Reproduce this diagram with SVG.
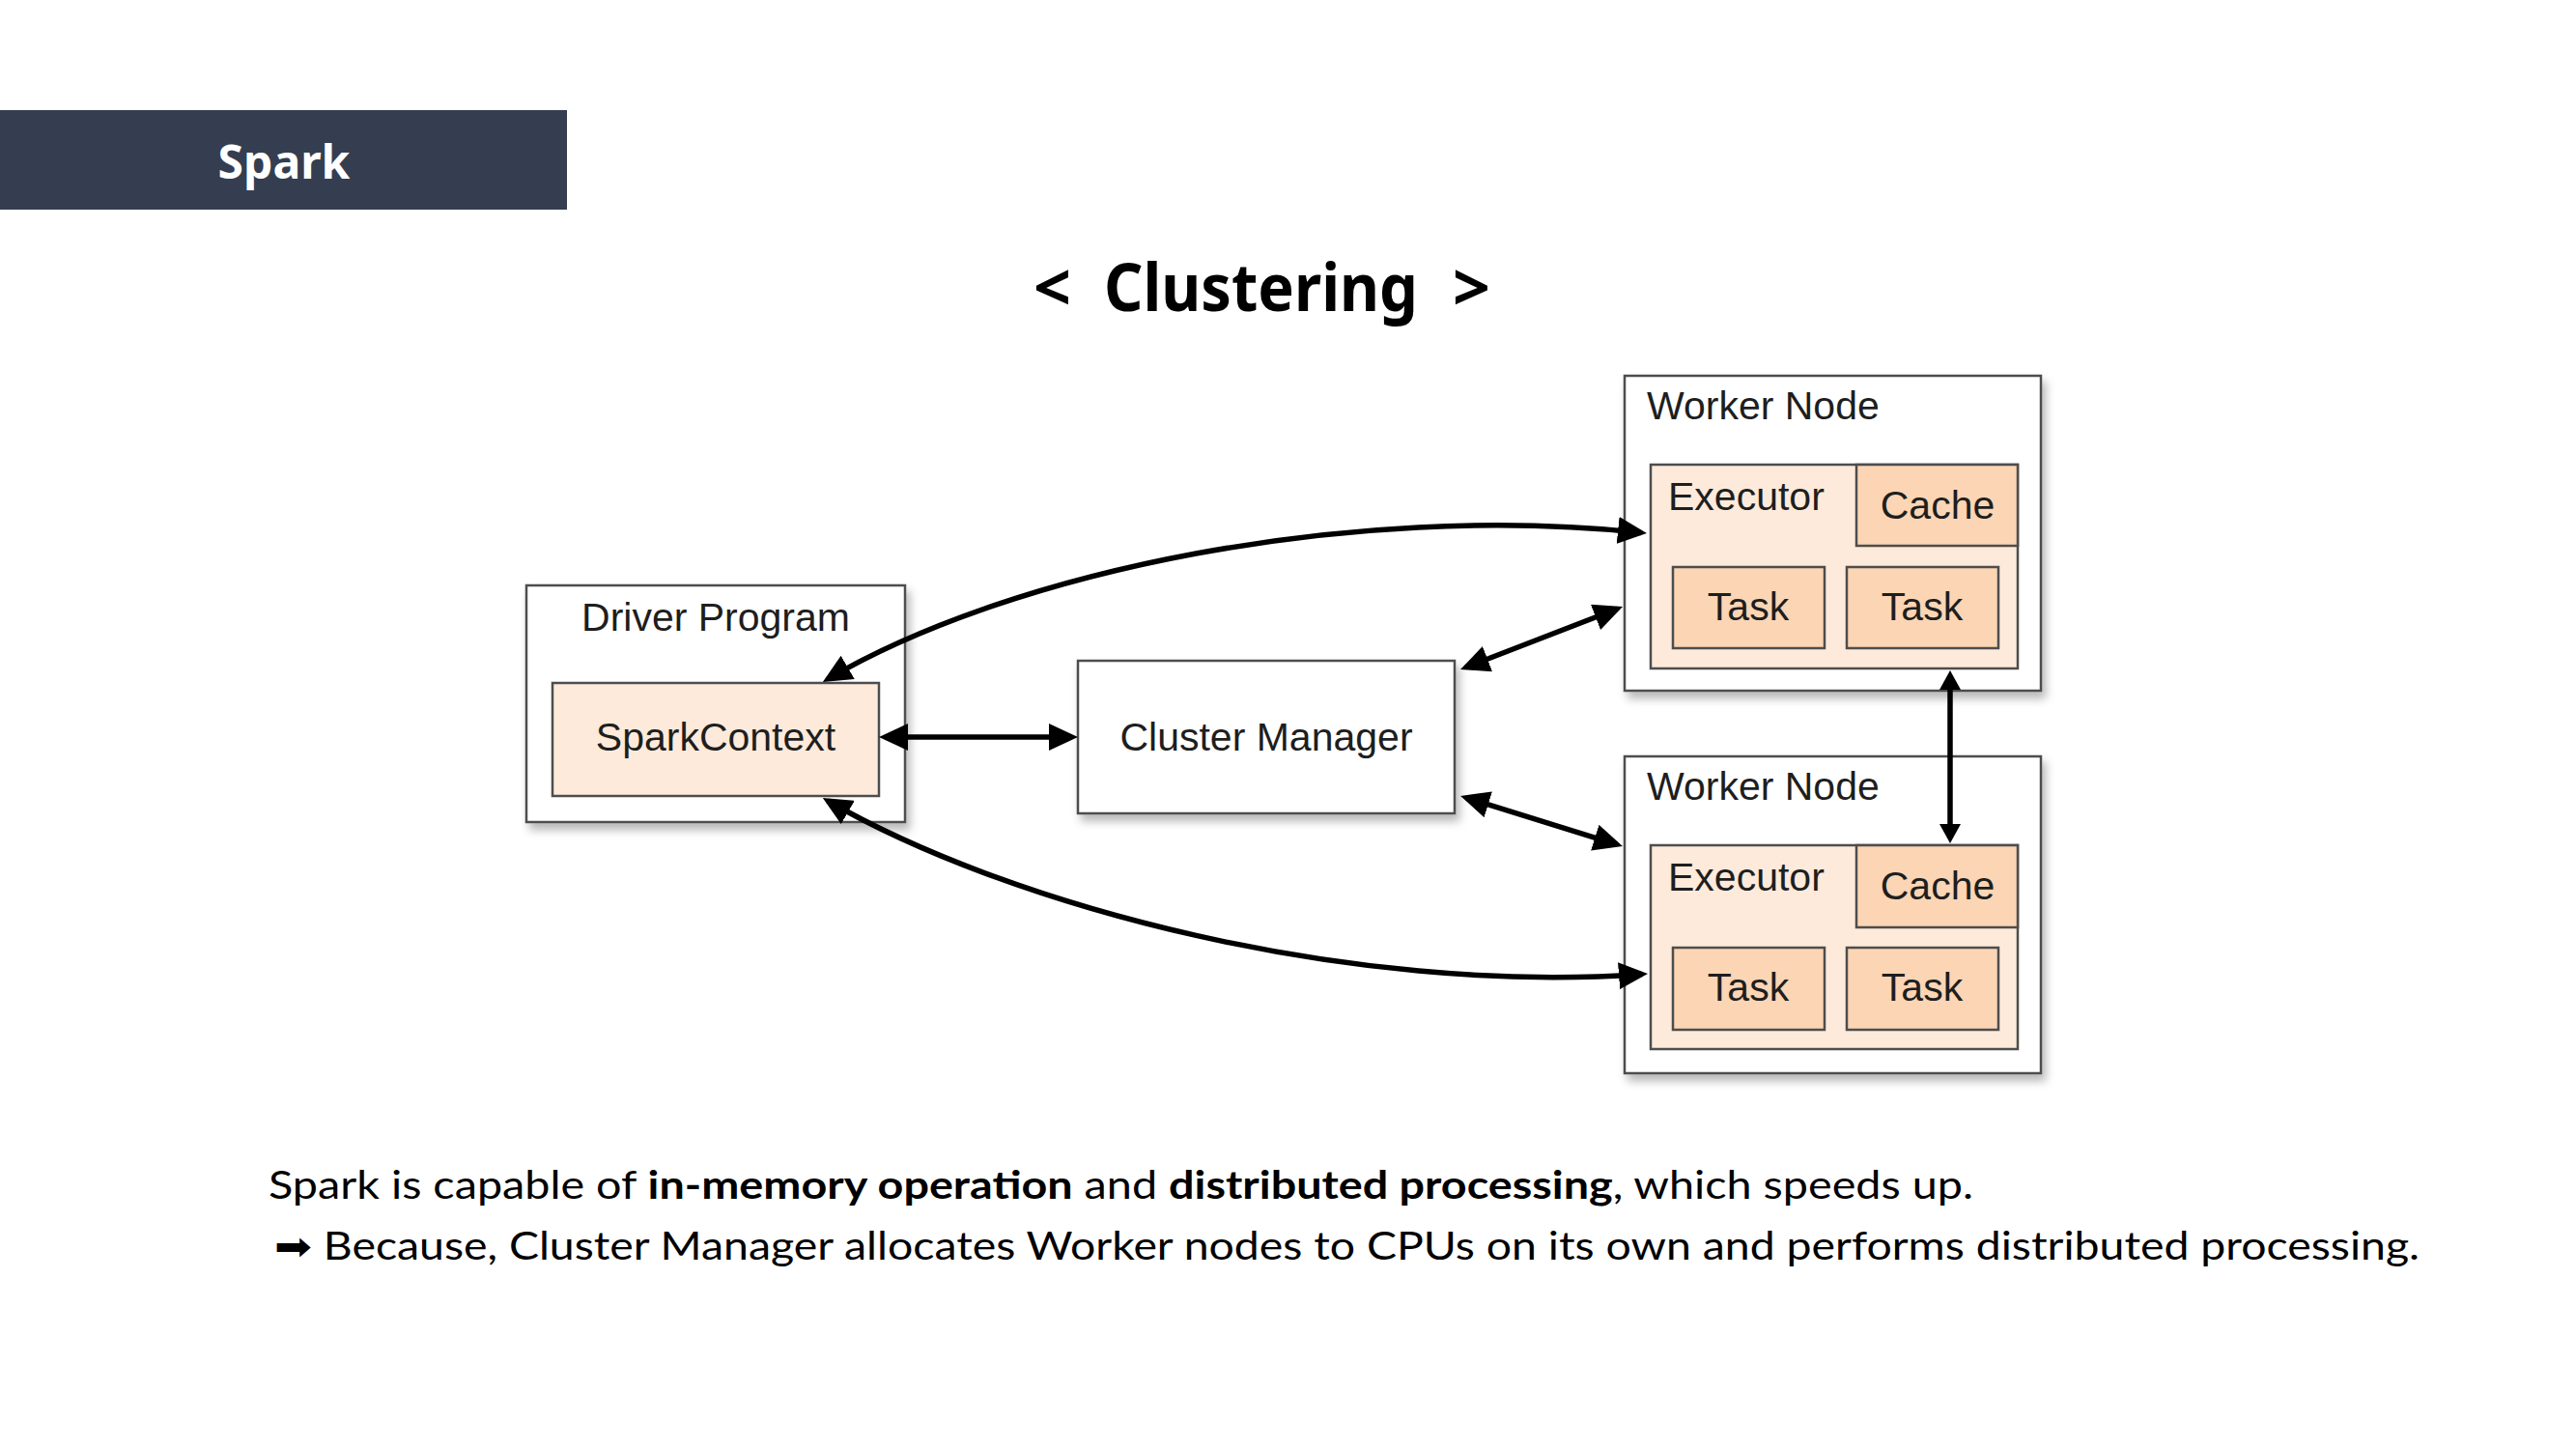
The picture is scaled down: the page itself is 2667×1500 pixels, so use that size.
<svg xmlns="http://www.w3.org/2000/svg" width="2667" height="1500" viewBox="0 0 2667 1500">
<style>
.box{fill:#ffffff;stroke:#4d4d4d;stroke-width:2.5}
.light{fill:#FDEADA;stroke:#4d4d4d;stroke-width:2.5}
.dark{fill:#FBD5B4;stroke:#4d4d4d;stroke-width:2.5}
.lbl{font-family:"Liberation Sans",Arial,sans-serif;font-size:41px;fill:#1e1e1e}
.c{text-anchor:middle}
.conn{fill:none;stroke:#000;stroke-width:5.5}
.body{font-family:Lato,"DejaVu Sans",sans-serif;font-size:40px;fill:#000}
.b{font-weight:bold}
</style>
<defs>
<marker id="ah" viewBox="0 0 30 28" refX="24" refY="14" markerWidth="30" markerHeight="28" markerUnits="userSpaceOnUse" orient="auto-start-reverse">
<path d="M0,0 L30,14 L0,28 z" fill="#000"/>
</marker>
<marker id="ahs" viewBox="0 0 20 22" refX="14" refY="11" markerWidth="20" markerHeight="22" markerUnits="userSpaceOnUse" orient="auto-start-reverse">
<path d="M0,0 L20,11 L0,22 z" fill="#000"/>
</marker>
<filter id="sh" x="-10%" y="-10%" width="125%" height="130%">
<feDropShadow dx="4" dy="7" stdDeviation="5" flood-color="#000" flood-opacity="0.28"/>
</filter>
</defs>
<rect width="2667" height="1500" fill="#ffffff"/>

<g id="banner">
<rect x="0" y="114" width="587" height="103" fill="#343E50"/>
<text x="294" y="185" text-anchor="middle" font-family="'Noto Sans','Open Sans',sans-serif" font-weight="bold" font-size="48" fill="#ffffff">Spark</text>
</g>

<g id="title" font-family="'Noto Sans','Open Sans',sans-serif" font-weight="bold" font-size="68" fill="#000">
<text x="1070" y="322">&lt;</text>
<text x="1143" y="322" textLength="325" lengthAdjust="spacingAndGlyphs">Clustering</text>
<text x="1504" y="322">&gt;</text>
</g>

<g id="driver-program">
<rect class="box" x="545" y="606" width="392" height="245" filter="url(#sh)"/>
<text class="lbl c" x="741" y="653">Driver Program</text>
</g>
<g id="spark-context">
<rect class="light" x="572" y="707" width="338" height="117"/>
<text class="lbl c" x="741" y="777">SparkContext</text>
</g>

<g id="cluster-manager">
<rect class="box" x="1116" y="684" width="390" height="158" filter="url(#sh)"/>
<text class="lbl c" x="1311" y="777">Cluster Manager</text>
</g>

<g id="worker-node-1">
<rect class="box" x="1682" y="389" width="431" height="326" filter="url(#sh)"/>
<text class="lbl" x="1705" y="434">Worker Node</text>
<rect class="light" x="1709" y="481" width="380" height="211"/>
<text class="lbl" x="1727" y="528">Executor</text>
<rect class="dark" x="1922" y="481" width="167" height="84"/>
<text class="lbl c" x="2006" y="537">Cache</text>
<rect class="dark" x="1732" y="587" width="157" height="84"/>
<text class="lbl c" x="1810" y="642">Task</text>
<rect class="dark" x="1912" y="587" width="157" height="84"/>
<text class="lbl c" x="1990" y="642">Task</text>
</g>

<g id="worker-node-2">
<rect class="box" x="1682" y="783" width="431" height="328" filter="url(#sh)"/>
<text class="lbl" x="1705" y="828">Worker Node</text>
<rect class="light" x="1709" y="875" width="380" height="211"/>
<text class="lbl" x="1727" y="922">Executor</text>
<rect class="dark" x="1922" y="875" width="167" height="85"/>
<text class="lbl c" x="2006" y="931">Cache</text>
<rect class="dark" x="1732" y="981" width="157" height="85"/>
<text class="lbl c" x="1810" y="1036">Task</text>
<rect class="dark" x="1912" y="981" width="157" height="85"/>
<text class="lbl c" x="1990" y="1036">Task</text>
</g>

<g id="connectors">
<path class="conn" d="M916,763 L1110,763" marker-start="url(#ah)" marker-end="url(#ah)"/>
<path class="conn" d="M1517.6,690.8 L1674.4,630.2" marker-start="url(#ah)" marker-end="url(#ah)"/>
<path class="conn" d="M1517.8,825.7 L1674.2,874.3" marker-start="url(#ah)" marker-end="url(#ah)"/>
<path class="conn" d="M857,703 C1050,590 1400,520 1699,551.4" marker-start="url(#ah)" marker-end="url(#ah)"/>
<path class="conn" d="M857,829 C1050,940 1400,1030 1700,1008.4" marker-start="url(#ah)" marker-end="url(#ah)"/>
<path class="conn" d="M2019,700 L2019,867" marker-start="url(#ahs)" marker-end="url(#ahs)"/>
</g>

<g id="caption">
<text class="body" x="278" y="1241" textLength="1765" lengthAdjust="spacingAndGlyphs">Spark is capable of <tspan class="b">in-memory operation</tspan> and <tspan class="b">distributed processing</tspan>, which speeds up.</text>
<text class="body" x="284" y="1304" textLength="2221" lengthAdjust="spacingAndGlyphs">➡ Because, Cluster Manager allocates Worker nodes to CPUs on its own and performs distributed processing.</text>
</g>
</svg>
